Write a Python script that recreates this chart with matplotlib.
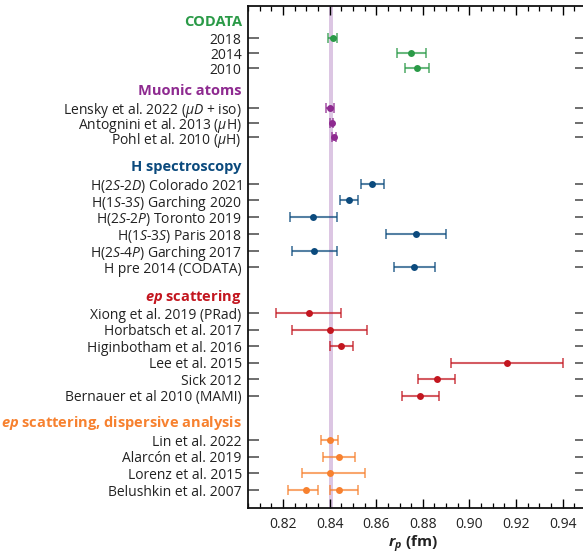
import matplotlib
matplotlib.use("Agg")
import matplotlib.pyplot as plt
import matplotlib.transforms as mtransforms
from matplotlib.ticker import MultipleLocator
import numpy as np

plt.rcParams['font.family'] = ['Open Sans', 'DejaVu Sans']
plt.rcParams['mathtext.fontset'] = 'custom'
plt.rcParams['mathtext.rm'] = 'Open Sans'
plt.rcParams['mathtext.it'] = 'Open Sans:italic'
plt.rcParams['mathtext.bf'] = 'Open Sans:bold'
plt.rcParams['mathtext.bfit'] = 'Open Sans:italic:bold'

# ---------------- data ----------------
group_titles = ["CODATA", "Muonic atoms", "H spectroscopy",
                r"$\mathbfit{ep}$ scattering",
                r"$\mathbfit{ep}$ scattering, dispersive analysis"]
group_colors = ["#2a9a47", "#8e2a90", "#0b4a7d", "#c3161f", "#f7812f"]

codata_labels = ["2018", "2014", "2010"]
codata_vals = [0.8414, 0.8751, 0.8775]
codata_lo = [0.0019, 0.0061, 0.0051]
codata_hi = [0.0019, 0.0061, 0.0051]

muonic_labels = [r"Lensky et al. 2022 ($\it{μD}$ + iso)",
                 r"Antognini et al. 2013 ($\it{μ}$H)",
                 r"Pohl et al. 2010 ($\it{μ}$H)"]
muonic_vals = [0.8400, 0.84087, 0.84184]
muonic_lo = [0.0017, 0.0006, 0.0007]
muonic_hi = [0.0017, 0.0006, 0.0007]

hspec_labels = [r"H(2$\it{S}$-2$\it{D}$) Colorado 2021",
                r"H(1$\it{S}$-3$\it{S}$) Garching 2020",
                r"H(2$\it{S}$-2$\it{P}$) Toronto 2019",
                r"H(1$\it{S}$-3$\it{S}$) Paris 2018",
                r"H(2$\it{S}$-4$\it{P}$) Garching 2017",
                "H pre 2014 (CODATA)"]
hspec_vals = [0.8584, 0.8482, 0.833, 0.877, 0.8335, 0.8764]
hspec_lo = [0.0051, 0.0038, 0.010, 0.013, 0.0095, 0.0089]
hspec_hi = [0.0051, 0.0038, 0.010, 0.013, 0.0095, 0.0089]

ep_labels = ["Xiong et al. 2019 (PRad)", "Horbatsch et al. 2017",
             "Higinbotham et al. 2016", "Lee et al. 2015", "Sick 2012",
             "Bernauer et al 2010 (MAMI)"]
ep_vals = [0.831, 0.840, 0.845, 0.916, 0.886, 0.879]
ep_lo = [0.014, 0.016, 0.005, 0.024, 0.008, 0.008]
ep_hi = [0.014, 0.016, 0.005, 0.024, 0.008, 0.008]

disp_labels = ["Lin et al. 2022", "Alarcón et al. 2019", "Lorenz et al. 2015",
               "Belushkin et al. 2007", "Belushkin et al. 2007"]
disp_vals = [0.840, 0.844, 0.840, 0.830, 0.844]
disp_lo = [0.0035, 0.007, 0.012, 0.008, 0.004]
disp_hi = [0.0035, 0.007, 0.015, 0.005, 0.008]
disp_row = [0, 1, 2, 3, 3]  # Belushkin has two values on one row

band_center = 0.8407
band_half = 0.0008

xlabel = r"$\mathbfit{r}_{\mathbfit{p}}$ (fm)"

# ---------------- layout (pixel-like units, y downward) ----------------
groups = [
    (codata_labels, codata_vals, codata_lo, codata_hi, None),
    (muonic_labels, muonic_vals, muonic_lo, muonic_hi, None),
    (hspec_labels, hspec_vals, hspec_lo, hspec_hi, None),
    (ep_labels, ep_vals, ep_lo, ep_hi, None),
    (disp_labels, disp_vals, disp_lo, disp_hi, disp_row),
]
group_start = [38.3, 107.7, 183.7, 313.3, 440.0]
group_step = [14.9, 14.8, 16.7, 16.5, 16.7]
header_off = 16.8

W, H = 583, 554
fig = plt.figure(figsize=(W / 100, H / 100), dpi=100)
ax_left, ax_right, ax_top, ax_bot = 248, 586, 6, 508.3
ax = fig.add_axes([ax_left / W, 1 - ax_bot / H, (ax_right - ax_left) / W,
                   (ax_bot - ax_top) / H])
ax.set_xlim(0.805, 0.95)
ax.set_ylim(ax_bot, ax_top)

ax.axvspan(band_center - band_half, band_center + band_half,
           color="#dcc6e3", lw=0, zorder=1)

trans = mtransforms.blended_transform_factory(ax.transAxes, ax.transData)
yticks, yticklabels = [], []
for gi, (labels, vals, lo, hi, rows) in enumerate(groups):
    col = group_colors[gi]
    if rows is None:
        rows = list(range(len(vals)))
    ys = [group_start[gi] + r * group_step[gi] for r in rows]
    ax.errorbar(vals, ys, xerr=[lo, hi], fmt='none', ecolor=col, alpha=0.7,
                elinewidth=1.5, capsize=3.4, capthick=1.3, zorder=3)
    ax.plot(vals, ys, 'o', color=col, ms=5, mec='none', zorder=4)
    seen = set()
    for lab, y in zip(labels, ys):
        if y in seen:
            continue
        seen.add(y)
        yticks.append(y)
        yticklabels.append(lab)
    ax.text(-0.018, group_start[gi] - header_off, group_titles[gi],
            transform=trans, ha='right', va='center', fontsize=10.5,
            fontweight='bold', color=col)

ax.set_yticks(yticks)
ax.set_yticklabels(yticklabels, fontsize=10)
ax.tick_params(axis='y', direction='in', length=8, width=1.2, color='#555555',
               left=True, right=True, pad=4.5, labelcolor='#222222')

ax.xaxis.set_major_locator(MultipleLocator(0.02))
ax.xaxis.set_minor_locator(MultipleLocator(0.005))
ax.set_xticks(np.arange(0.82, 0.9401, 0.02))
ax.set_xticklabels([f"{v:.2f}" for v in np.arange(0.82, 0.9401, 0.02)],
                   fontsize=10)
ax.tick_params(axis='x', which='major', direction='in', length=6.5,
               width=1.0, top=True, bottom=True, pad=6, labelcolor='#222222')
ax.tick_params(axis='x', which='minor', direction='in', length=3.5,
               width=0.9, top=True, bottom=True)
for s in ax.spines.values():
    s.set_linewidth(1.3)
    s.set_color('#111111')

fig.text(413 / W, 1 - 544 / H, xlabel, ha='center', va='center',
         fontsize=11, fontweight='bold', color='#222222')

fig.savefig("out.png", dpi=100)
